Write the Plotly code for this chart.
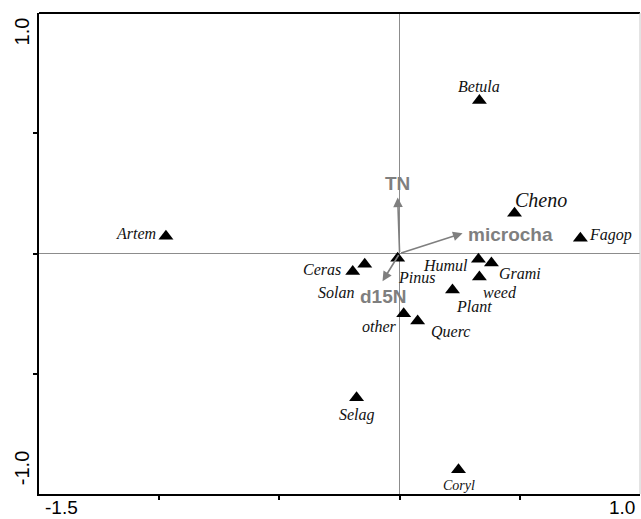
import plotly.graph_objects as go

# Species scores on the first two ordination axes
species = ["Betula", "Cheno", "Fagop", "Artem", "Ceras", "Solan", "Pinus", "Humul",
           "Grami", "weed", "Plant", "other", "Querc", "Selag", "Coryl"]
axis1 = [0.332, 0.478, 0.752, -0.972, -0.195, -0.145, -0.008, 0.328,
         0.382, 0.332, 0.220, 0.017, 0.075, -0.179, 0.245]
axis2 = [0.636, 0.167, 0.063, 0.072, -0.075, -0.045, -0.020, -0.024,
         -0.040, -0.098, -0.152, -0.250, -0.281, -0.600, -0.899]

# Environmental variables (biplot arrows)
env_names = ["TN", "microcha", "d15N"]
env_x = [-0.008, 0.262, -0.071]
env_y = [0.233, 0.084, -0.115]

# Axis extremes printed at the ends of each axis
x_min, x_max = -1.5, 1.0
y_min, y_max = -1.0, 1.0
x_end_labels = ["-1.5", "1.0"]
y_end_labels = ["1.0", "-1.0"]

# Label placement per species: (xshift, yshift, font size) in pixels
label_style = {
    "Betula": (0, 14, 16), "Cheno": (26, 13, 20), "Fagop": (30, 3, 16),
    "Artem": (-30, 3, 16), "Ceras": (-31, 2, 16), "Solan": (-29, -28, 16),
    "Pinus": (19, -19, 16), "Humul": (-33, -6, 16), "Grami": (29, -10, 16),
    "weed": (21, -15, 16), "Plant": (22, -16, 16), "other": (-24, -13, 16),
    "Querc": (33, -10, 16), "Selag": (0, -17, 16), "Coryl": (0, -16, 14),
}
env_label_shift = {"TN": (0, 14), "microcha": (48, -1), "d15N": (0, -15)}

GREY = "#7f7f7f"

fig = go.Figure()

fig.add_trace(go.Scatter(
    x=axis1, y=axis2, mode="markers",
    marker=dict(symbol="triangle-up", size=13, color="black"),
    hoverinfo="text", text=species, showlegend=False,
))

annotations = []
for name, xv, yv in zip(species, axis1, axis2):
    dx, dy, fs = label_style[name]
    annotations.append(dict(
        x=xv, y=yv, xref="x", yref="y", text=name, showarrow=False,
        xanchor="center", yanchor="middle", xshift=dx, yshift=dy,
        font=dict(family="Liberation Serif", size=fs, color="#111111", style="italic"),
    ))

for name, xv, yv in zip(env_names, env_x, env_y):
    annotations.append(dict(
        x=xv, y=yv, ax=0, ay=0, xref="x", yref="y", axref="x", ayref="y",
        text="", showarrow=True, arrowhead=2, arrowsize=1.2, arrowwidth=1.6,
        arrowcolor=GREY, standoff=0,
    ))
    dx, dy = env_label_shift[name]
    annotations.append(dict(
        x=xv, y=yv, xref="x", yref="y", text=name, showarrow=False,
        xanchor="center", yanchor="middle", xshift=dx, yshift=dy,
        font=dict(family="Liberation Sans", size=19, color=GREY, weight="bold"),
    ))

end_font = dict(family="Liberation Sans", size=19, color="black")
annotations += [
    dict(x=0.038, y=0, xref="paper", yref="paper", text=x_end_labels[0], showarrow=False,
         xanchor="center", yanchor="top", yshift=-1, font=end_font),
    dict(x=0.970, y=0, xref="paper", yref="paper", text=x_end_labels[1], showarrow=False,
         xanchor="center", yanchor="top", yshift=-1, font=end_font),
    dict(x=-0.028, y=0.962, xref="paper", yref="paper", text=y_end_labels[0], showarrow=False,
         xanchor="center", yanchor="middle", textangle=-90, font=dict(end_font, size=20)),
    dict(x=-0.028, y=0.054, xref="paper", yref="paper", text=y_end_labels[1], showarrow=False,
         xanchor="center", yanchor="middle", textangle=-90, font=dict(end_font, size=20)),
]

fig.update_layout(
    width=641, height=519,
    margin=dict(l=39, r=1, t=13, b=25),
    paper_bgcolor="white", plot_bgcolor="white",
    annotations=annotations,
    shapes=[
        dict(type="line", xref="paper", yref="paper", x0=0, x1=1, y0=1, y1=1,
             line=dict(color="black", width=2)),
        dict(type="line", xref="paper", yref="paper", x0=1, x1=1, y0=0, y1=1,
             line=dict(color="#c8c8c8", width=1)),
    ],
)
fig.update_xaxes(
    range=[x_min, x_max], showgrid=False, showticklabels=False,
    zeroline=True, zerolinecolor="#8c8c8c", zerolinewidth=1,
    showline=True, linecolor="black", linewidth=2,
    ticks="outside", ticklen=4, tickwidth=1.5, tickcolor="black",
    tickvals=[-1.0, -0.5, 0.0, 0.5],
)
fig.update_yaxes(
    range=[y_min, y_max], showgrid=False, showticklabels=False,
    zeroline=True, zerolinecolor="#8c8c8c", zerolinewidth=1,
    showline=True, linecolor="black", linewidth=2,
    ticks="outside", ticklen=4, tickwidth=1.5, tickcolor="black",
    tickvals=[-0.5, 0.0, 0.5],
)

fig.write_html("out.html")
